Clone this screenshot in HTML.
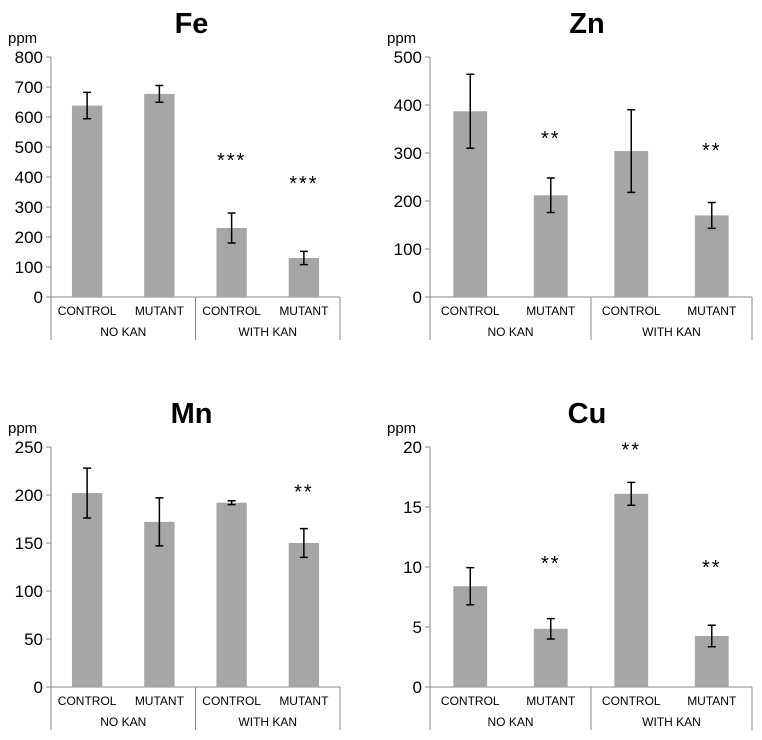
<!DOCTYPE html>
<html><head><meta charset="utf-8"><style>
body{margin:0;background:#fff;font-family:"Liberation Sans",Arial,sans-serif}
svg{display:block}
</style></head><body>
<svg id="chart" width="762" height="740" xmlns="http://www.w3.org/2000/svg"></svg>
<script>
const categories = ["CONTROL","MUTANT","CONTROL","MUTANT"];
const groups = ["NO KAN","WITH KAN"];
const feValues = [638,677,230,130];
const feErrors = [44,28,50,22];
const feStars = [null,null,"***","***"];
const feStarVals = [0,0,473,397];
const feTicks = [0,100,200,300,400,500,600,700,800];
const znValues = [387,212,304,170];
const znErrors = [77,36,86,27];
const znStars = [null,"**",null,"**"];
const znStarVals = [0,342,0,317];
const znTicks = [0,100,200,300,400,500];
const mnValues = [202,172,192,150];
const mnErrors = [26,25,2,15];
const mnStars = [null,null,null,"**"];
const mnStarVals = [0,0,0,209];
const mnTicks = [0,50,100,150,200,250];
const cuValues = [8.4,4.85,16.1,4.25];
const cuErrors = [1.55,0.85,0.95,0.9];
const cuStars = [null,"**","**","**"];
const cuStarVals = [0,10.75,20.2,10.4];
const cuTicks = [0,5,10,15,20];

const NS="http://www.w3.org/2000/svg";
const svg=document.getElementById('chart');
function mk(tag,attrs,parent,text){const e=document.createElementNS(NS,tag);for(const k in attrs)e.setAttribute(k,attrs[k]);if(text!==undefined)e.textContent=text;(parent||svg).appendChild(e);return e;}

function panel(name,title,vals,errs,stars,starVals,ticks,x0,x1,yTop,yBot){
  const g=mk('g',{});
  
  
  const maxV=ticks[ticks.length-1];
  const y=v=>yBot-(v/maxV)*(yBot-yTop);
  const cw=(x1-x0)/4;
  const xc=i=>x0+cw*(i+0.5);
  const t=mk('text',{x:(x0+x1)/2-4,y:yTop-24,'text-anchor':'middle','font-size':29,'font-weight':'bold',fill:'#000'},g,title);
  
  
  const u=mk('text',{x:x0-43,y:yTop-14,'font-size':15,fill:'#000'},g,'ppm');
  
  
  ticks.forEach(tv=>{
    mk('line',{x1:x0-5,x2:x0,y1:y(tv),y2:y(tv),stroke:'#888'},g);
    const tl=mk('text',{x:x0-8,y:y(tv)+6,'text-anchor':'end','font-size':17,fill:'#000'},g,String(tv));
    
    
  });
  mk('line',{x1:x0,x2:x0,y1:yTop,y2:yBot+43,stroke:'#888'},g);
  mk('line',{x1:x0,x2:x1,y1:yBot,y2:yBot,stroke:'#888'},g);
  mk('line',{x1:(x0+x1)/2,x2:(x0+x1)/2,y1:yBot,y2:yBot+43,stroke:'#888'},g);
  mk('line',{x1:x1,x2:x1,y1:yBot,y2:yBot+43,stroke:'#888'},g);
  const bw=cw*0.42;
  vals.forEach((v,i)=>{
    const b=mk('rect',{x:xc(i)-bw/2,y:y(v),width:bw,height:yBot-y(v),fill:'#a6a6a6'},g);
    
    
    const e=errs[i],cx=xc(i);
    const eb=mk('path',{d:`M${cx},${y(v+e)}V${y(v-e)}M${cx-4},${y(v+e)}H${cx+4}M${cx-4},${y(v-e)}H${cx+4}`,stroke:'#000','stroke-width':1.5,fill:'none'},g);
    
    
    if(stars[i]){
      const s=mk('text',{x:cx,y:y(starVals[i])+12,'text-anchor':'middle','font-size':20,'letter-spacing':2,fill:'#000'},g,stars[i]);
      
      
    }
    const cl=mk('text',{x:cx,y:yBot+18,'text-anchor':'middle','font-size':12,fill:'#000'},g,categories[i]);
    
    
  });
  groups.forEach((gr,j)=>{
    const gl=mk('text',{x:x0+cw*(2*j+1),y:yBot+39,'text-anchor':'middle','font-size':12,fill:'#000'},g,gr);
    
    
  });
}
panel('fe','Fe',feValues,feErrors,feStars,feStarVals,feTicks,51,340,57,297);
panel('zn','Zn',znValues,znErrors,znStars,znStarVals,znTicks,430,752,57,297);
panel('mn','Mn',mnValues,mnErrors,mnStars,mnStarVals,mnTicks,51,340,447,687);
panel('cu','Cu',cuValues,cuErrors,cuStars,cuStarVals,cuTicks,430,752,447,687);
</script>
</body></html>
